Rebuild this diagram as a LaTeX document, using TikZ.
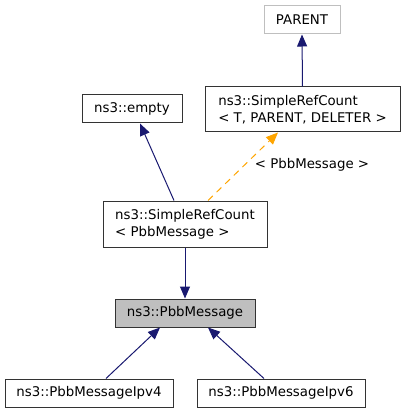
\documentclass[tikz,border=0pt]{standalone}
\usepackage{fontspec}
\setmainfont{DejaVu Sans}
\usetikzlibrary{calc,arrows.meta}
\definecolor{edgeblue}{HTML}{191970}
\definecolor{edgeorange}{HTML}{FFA500}
\definecolor{boxgray}{HTML}{BFBFBF}
\tikzset{
	cls/.style={draw=black!80, line width=0.75pt, inner sep=0pt, align=left, font=\fontsize{10pt}{12.5pt}\selectfont},
	inherit/.style={draw=edgeblue, line width=0.75pt, -{Triangle[length=9pt, width=7.5pt]}},
	templ/.style={draw=edgeorange, line width=0.75pt, dashed, dash pattern=on 5pt off 4pt, -{Triangle[length=9pt, width=7.5pt, fill=edgeorange]}}
}

\begin{document}
\begin{tikzpicture}[x=0.75pt, y=-0.75pt]
		%%%%% START %%%%%
		
		\useasboundingbox (0, 0) rectangle (405, 413);
		
		\node[cls, draw=boxgray, minimum width={76*0.75pt}, minimum height={28*0.75pt}] (parent) at (302, 20) {PARENT};
		\node[cls, minimum width={195*0.75pt}, minimum height={45*0.75pt}] (srct) at (302.5, 109.5) {ns3::SimpleRefCount\\< T, PARENT, DELETER >};
		\node[cls, minimum width={100*0.75pt}, minimum height={28*0.75pt}] (empty) at (132, 109) {ns3::empty};
		\node[cls, minimum width={164*0.75pt}, minimum height={46*0.75pt}] (srcp) at (185, 224) {ns3::SimpleRefCount\\< PbbMessage >};
		\node[cls, fill=boxgray, minimum width={140*0.75pt}, minimum height={28*0.75pt}] (pbb) at (185, 313) {ns3::PbbMessage};
		\node[cls, minimum width={168*0.75pt}, minimum height={28*0.75pt}] (ipv4) at (89, 393) {ns3::PbbMessageIpv4};
		\node[cls, minimum width={168*0.75pt}, minimum height={28*0.75pt}] (ipv6) at (281, 393) {ns3::PbbMessageIpv6};
		
		\draw[inherit] (srct.north) -- (parent.south);
		\draw[inherit] ($(srcp.north)+(-11, 0)$) -- ($(empty.south)+(8, 0)$);
		\draw[templ] ($(srcp.north)+(23, 0)$) -- ($(srct.south)+(-24.5, 0)$);
		\node[font=\fontsize{10pt}{12pt}\selectfont, inner sep=0pt] (arg) at (312, 165) {< PbbMessage >};
		
		\draw[inherit] (srcp.south) -- (pbb.north);
		\draw[inherit] ($(ipv4.north)+(17, 0)$) -- ($(pbb.south)+(-25, 0)$);
		\draw[inherit] ($(ipv6.north)+(-17, 0)$) -- ($(pbb.south)+(23, 0)$);
		
		%%%%% END %%%%%
	\end{tikzpicture}
\end{document}
